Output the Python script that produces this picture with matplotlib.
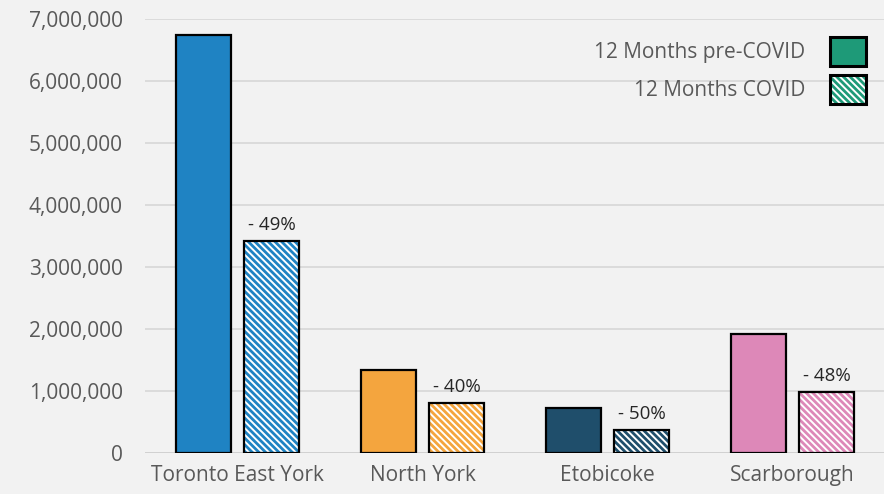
import matplotlib
matplotlib.use('Agg')
import matplotlib.pyplot as plt
import numpy as np
from matplotlib.patches import Patch
from matplotlib.ticker import FuncFormatter

plt.rcParams['font.family'] = ['Open Sans', 'DejaVu Sans']
plt.rcParams['hatch.linewidth'] = 2.0

districts = ["Toronto East York", "North York", "Etobicoke", "Scarborough"]
pre_covid = [6740000, 1340000, 730000, 1920000]
covid = [3420000, 810000, 370000, 980000]
changes = ["- 49%", "- 40%", "- 50%", "- 48%"]
colors = ["#1f83c3", "#f4a53e", "#1f4e6b", "#dd88b8"]

bg = "#f2f2f2"
fig = plt.figure(figsize=(8.84, 4.94), dpi=100, facecolor=bg)
ax = fig.add_axes([0.164, 0.083, 0.837, 0.8785], facecolor=bg)

x = np.arange(len(districts))
w = 0.30
off = 0.184
hatch = "\\\\\\\\\\"

for i in range(len(districts)):
  ax.bar(x[i] - off, pre_covid[i], w, color=colors[i], edgecolor="black", linewidth=1.6, zorder=3)
  ax.bar(x[i] + off, covid[i], w, color="white", edgecolor=colors[i], hatch=hatch, linewidth=0, zorder=3)
  ax.bar(x[i] + off, covid[i], w, fill=False, edgecolor="black", linewidth=1.6, zorder=4)
  ax.text(x[i] + off, covid[i] + 110000, changes[i], ha="center", va="bottom", fontsize=13.5, color="#262626")

ax.set_ylim(0, 7000000)
ax.set_xlim(-0.5, 3.5)
ax.set_yticks(np.arange(0, 7000001, 1000000))
ax.yaxis.set_major_formatter(FuncFormatter(lambda v, p: "{:,.0f}".format(v)))
ax.set_xticks(x)
ax.set_xticklabels(districts, fontsize=15, color="#595959")
ax.tick_params(axis="y", labelsize=15, labelcolor="#595959", length=0, pad=16)
ax.tick_params(axis="x", length=0, pad=9)
ax.grid(axis="y", color="#d9d9d9", linewidth=1.3, zorder=0)
ax.axhline(0, color="#d0d0d0", linewidth=2, zorder=2)
for s in ax.spines.values():
  s.set_visible(False)

legend_color = "#1e9a78"
h1 = Patch(facecolor=legend_color, edgecolor="black", linewidth=2.2)
h2 = (Patch(facecolor="white", edgecolor=legend_color, hatch=hatch, linewidth=0),
      Patch(fill=False, edgecolor="black", linewidth=2.2))
ax.legend([h1, h2], ["12 Months pre-COVID", "12 Months COVID"], loc="upper right",
          bbox_to_anchor=(866 / 884, 1 - 37 / 494), bbox_transform=fig.transFigure,
          borderpad=0, borderaxespad=0, markerfirst=False, frameon=False,
          handlelength=1.75, handleheight=1.75, labelspacing=0.43, handletextpad=1.15,
          fontsize=15, labelcolor="#595959")

fig.savefig("out.png", dpi=100, facecolor=bg)
